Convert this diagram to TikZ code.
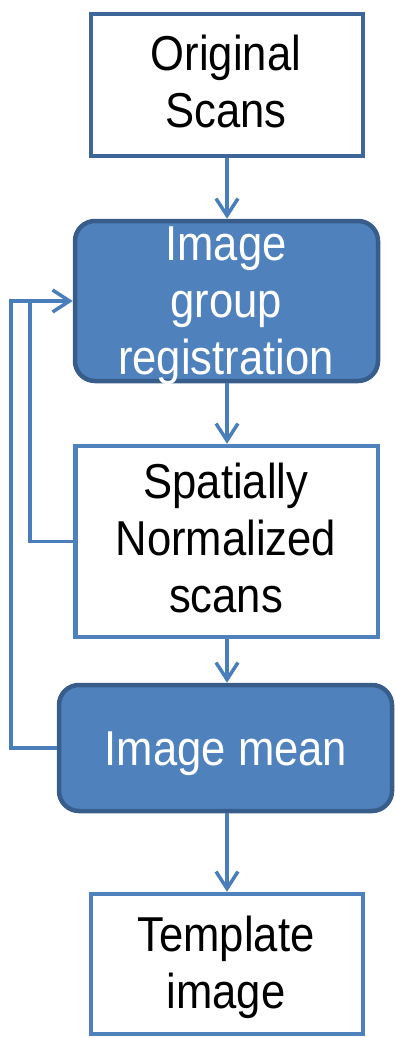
\documentclass[tikz,border=0pt]{standalone}
\usepackage{fontspec}
\setmainfont{Liberation Sans}[FakeStretch=0.89]
\usetikzlibrary{arrows.meta}

\definecolor{accent}{HTML}{4F81BD}
\definecolor{accentdark}{HTML}{385D8A}
\definecolor{framedark}{HTML}{3F6698}
\definecolor{wire}{HTML}{4A7EBB}

\begin{document}
\begin{tikzpicture}[x=1pt, y=-1pt,
    plainbox/.style={draw=accent, line width=4.5pt, fill=white, rectangle,
      inner sep=0pt},
    filledbox/.style={draw=accentdark, line width=4.5pt, fill=accent, rectangle,
      rounded corners=20pt, inner sep=0pt},
    txt/.style={font=\fontsize{49}{57}\selectfont, align=center, anchor=base,
      inner sep=0pt},
    wirestyle/.style={draw=wire, line width=3.5pt, line join=miter},
    arr/.style={wirestyle, -{Straight Barb[length=17pt, width=22pt, line width=3.5pt]}}]

  \useasboundingbox (0,0) rectangle (395,1038);

  % boxes
  \node[plainbox, draw=framedark, minimum width=272pt, minimum height=142pt] (b1) at (227,85) {};
  \node[filledbox, minimum width=303pt, minimum height=160pt] (b2) at (226.5,301) {};
  \node[plainbox, minimum width=302.5pt, minimum height=191pt] (b3) at (226.75,541.5) {};
  \node[filledbox, minimum width=333pt, minimum height=126pt] (b4) at (225.5,748) {};
  \node[plainbox, minimum width=272pt, minimum height=140pt] (b5) at (227,964) {};

  % main flow
  \draw[arr] (b1.south) -- (b1.south |- b2.north);
  \draw[arr] (b1.south |- b2.south) -- (b1.south |- b3.north);
  \draw[arr] (b1.south |- b3.south) -- (b1.south |- b4.north);
  \draw[arr] (b1.south |- b4.south) -- (b1.south |- b5.north);

  % feedback loops
  \coordinate (j) at (30,301);
  \coordinate (k) at (11,301);
  \draw[arr] (b3.west) -| (j) -- (b2.west);
  \draw[wirestyle] (b4.west) -| (k) -- (j);

  % labels (placed on the baseline of their last line)
  \node[txt] (t1) at (226,128) {Original\\Scans};
  \node[txt, text=white] (t2) at (226,374) {Image\\group\\registration};
  \node[txt] (t3) at (226,612) {Spatially\\Normalized\\scans};
  \node[txt, text=white] (t4) at (226,765) {Image mean};
  \node[txt] (t5) at (226,1008) {Template\\image};
\end{tikzpicture}
\end{document}
